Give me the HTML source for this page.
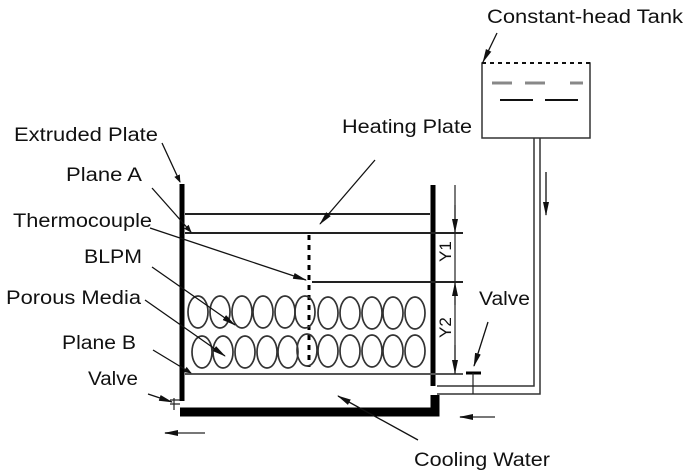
<!DOCTYPE html>
<html><head><style>body{margin:0;background:#fff}svg{display:block}text{font-family:"Liberation Sans",sans-serif;font-size:19px;fill:#111}</style></head>
<body>
<svg width="685" height="473" viewBox="0 0 685 473" xmlns="http://www.w3.org/2000/svg">
<defs><marker id="a" markerWidth="8" markerHeight="8" refX="7" refY="4" orient="auto" markerUnits="userSpaceOnUse"><path d="M0,1 L8,4 L0,7 z" fill="#111"/></marker>
<marker id="b" markerWidth="14" markerHeight="8" refX="13" refY="4" orient="auto" markerUnits="userSpaceOnUse"><path d="M0,1 L14,4 L0,7 z" fill="#111"/></marker></defs>
<g stroke="#222" fill="none">
<line x1="182" y1="184" x2="182" y2="401" stroke-width="5" stroke="#000"/>
<line x1="433" y1="185" x2="433" y2="386" stroke-width="5" stroke="#000"/>
<path d="M180,412 H435 V395" stroke-width="9" stroke="#000"/>
<line x1="185" y1="214" x2="430" y2="214" stroke-width="2"/>
<line x1="185" y1="233" x2="463" y2="233" stroke-width="2"/>
<line x1="312" y1="282" x2="463" y2="282" stroke-width="2"/>
<line x1="185" y1="374" x2="463" y2="374" stroke-width="2" stroke="#555"/>
<line x1="309" y1="235" x2="309" y2="367" stroke-width="3" stroke-dasharray="5,5" stroke="#000"/>
<g stroke-width="1.7" stroke="#333">
<ellipse cx="198" cy="312" rx="10" ry="16"/><ellipse cx="220" cy="312" rx="10" ry="16"/><ellipse cx="242" cy="312" rx="10" ry="16"/><ellipse cx="263" cy="312" rx="10" ry="16"/><ellipse cx="285" cy="312" rx="10" ry="16"/><ellipse cx="305" cy="312" rx="10" ry="16"/><ellipse cx="328" cy="313" rx="10" ry="16"/><ellipse cx="350" cy="313" rx="10" ry="16"/><ellipse cx="372" cy="313" rx="10" ry="16"/><ellipse cx="393" cy="313" rx="10" ry="16"/><ellipse cx="415" cy="313" rx="10" ry="16"/>
<ellipse cx="202" cy="352" rx="10" ry="16"/><ellipse cx="223" cy="352" rx="10" ry="16"/><ellipse cx="245" cy="352" rx="10" ry="16"/><ellipse cx="267" cy="352" rx="10" ry="16"/><ellipse cx="288" cy="352" rx="10" ry="16"/><ellipse cx="307" cy="350" rx="10" ry="16"/><ellipse cx="328" cy="351" rx="10" ry="16"/><ellipse cx="350" cy="351" rx="10" ry="16"/><ellipse cx="372" cy="351" rx="10" ry="16"/><ellipse cx="393" cy="351" rx="10" ry="16"/><ellipse cx="415" cy="351" rx="10" ry="16"/>
</g>
<line x1="455" y1="185" x2="455" y2="374" stroke-width="1.2"/>
<line x1="455" y1="205" x2="455" y2="232" marker-end="url(#b)" stroke-width="1.2"/>
<line x1="455" y1="305" x2="455" y2="283" marker-end="url(#b)" stroke-width="1.2"/>
<line x1="455" y1="345" x2="455" y2="373" marker-end="url(#b)" stroke-width="1.2"/>
<rect x="482" y="63" width="108" height="75" stroke-width="1.5" stroke="#333"/>
<line x1="482" y1="63" x2="590" y2="63" stroke="#fff" stroke-width="2"/>
<line x1="482" y1="63" x2="590" y2="63" stroke="#111" stroke-width="2" stroke-dasharray="4,4"/>
<path d="M492,83H512M525,83H545M570,83H583" stroke="#888" stroke-width="3"/>
<path d="M500,100H533M545,100H578" stroke="#111" stroke-width="2"/>
<path d="M534,138 V386 H437" stroke-width="1.5" stroke="#333"/>
<path d="M540,138 V394 H437" stroke-width="1.5" stroke="#333"/>
<line x1="466" y1="373" x2="481" y2="373" stroke-width="3" stroke="#000"/>
<line x1="473" y1="373" x2="473" y2="394" stroke-width="1.2"/>
<path d="M170,400 H180 M170,404 H180 M174,398 V410" stroke-width="1.2"/>
<g stroke-width="1.3" stroke="#111">
<line x1="162" y1="143" x2="180" y2="182" marker-end="url(#a)"/>
<line x1="152" y1="188" x2="191" y2="232" marker-end="url(#a)"/>
<line x1="150" y1="228" x2="306" y2="280" marker-end="url(#b)"/>
<line x1="375" y1="160" x2="320" y2="224" marker-end="url(#b)"/>
<line x1="152" y1="267" x2="235" y2="325" marker-end="url(#b)"/>
<line x1="145" y1="300" x2="225" y2="356" marker-end="url(#b)"/>
<line x1="153" y1="350" x2="191" y2="373" marker-end="url(#a)"/>
<line x1="148" y1="394" x2="172" y2="402" marker-end="url(#b)"/>
<line x1="488" y1="322" x2="474" y2="366" marker-end="url(#b)"/>
<line x1="497" y1="33" x2="483" y2="62" marker-end="url(#b)"/>
<line x1="418" y1="440" x2="338" y2="396" marker-end="url(#b)"/>
<line x1="546" y1="172" x2="546" y2="215" marker-end="url(#b)"/>
</g>
<line x1="205" y1="433" x2="165" y2="433" stroke="#777" stroke-width="2" marker-end="url(#b)"/>
<line x1="495" y1="417" x2="460" y2="417" stroke="#777" stroke-width="2" marker-end="url(#b)"/>
</g>
<text x="487" y="23" textLength="196" lengthAdjust="spacingAndGlyphs">Constant-head Tank</text>
<text x="342" y="133" textLength="130" lengthAdjust="spacingAndGlyphs">Heating Plate</text>
<text x="14" y="141" textLength="144" lengthAdjust="spacingAndGlyphs">Extruded Plate</text>
<text x="66" y="181" textLength="76" lengthAdjust="spacingAndGlyphs">Plane A</text>
<text x="13" y="227" textLength="139" lengthAdjust="spacingAndGlyphs">Thermocouple</text>
<text x="84" y="263" textLength="58" lengthAdjust="spacingAndGlyphs">BLPM</text>
<text x="6" y="304" textLength="135" lengthAdjust="spacingAndGlyphs">Porous Media</text>
<text x="62" y="349" textLength="74" lengthAdjust="spacingAndGlyphs">Plane B</text>
<text x="88" y="385" textLength="50" lengthAdjust="spacingAndGlyphs">Valve</text>
<text x="479" y="305" textLength="51" lengthAdjust="spacingAndGlyphs">Valve</text>
<text x="414" y="466" textLength="136" lengthAdjust="spacingAndGlyphs">Cooling Water</text>
<text transform="translate(451,262) rotate(-90)" style="font-size:17px">Y1</text>
<text transform="translate(451,338) rotate(-90)" style="font-size:17px">Y2</text>
</svg>
</body></html>
